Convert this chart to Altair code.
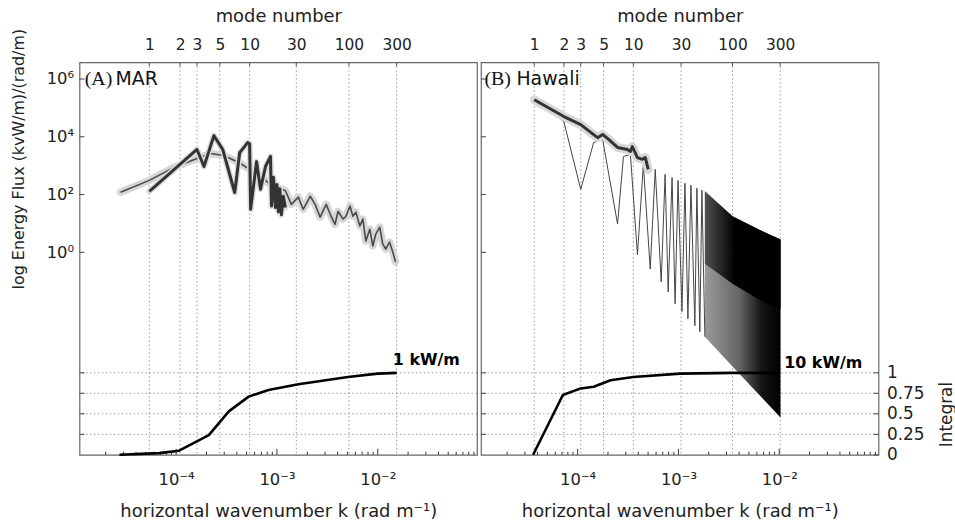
import altair as alt
import pandas as pd

# ---------------- data ----------------
mode_labels = ['1', '2', '3', '5', '10', '30', '100', '300']
mar_mode_k = [5.42e-5, 1.094e-4, 1.61e-4, 2.71e-4, 5.36e-4, 1.556e-3, 5.18e-3, 1.54e-2]
haw_mode_k = [3.71e-5, 7.31e-5, 1.074e-4, 1.81e-4, 3.57e-4, 1.062e-3, 3.44e-3, 1.023e-2]

# Panel A: MAR  (k in rad/m, log10 energy flux)
mar_model_k = [2.81e-5, 5.42e-5, 9.55e-5, 1.61e-4, 2.21e-4, 2.97e-4, 4.18e-4, 5.36e-4,
               6.87e-4, 8.83e-4, 1.213e-3, 1.39e-3, 1.63e-3, 1.82e-3, 2.14e-3, 2.39e-3,
               2.68e-3, 3.08e-3, 3.44e-3, 3.77e-3, 4.04e-3, 4.52e-3, 4.84e-3, 5.30e-3,
               5.67e-3, 6.07e-3, 6.65e-3, 7.12e-3, 7.62e-3, 8.34e-3, 8.93e-3, 9.55e-3,
               1.047e-2, 1.12e-2, 1.20e-2, 1.31e-2, 1.41e-2, 1.50e-2]
mar_model_logF = [2.08, 2.49, 2.94, 3.25, 3.42, 3.35, 3.11, 2.87,
                  2.63, 2.32, 2.13, 1.66, 1.91, 1.49, 1.94, 1.66,
                  1.22, 1.66, 1.25, 0.97, 1.42, 1.15, 1.25, 1.60,
                  1.25, 1.39, 0.91, 1.15, 0.39, 0.80, 0.22, 0.63,
                  0.87, 0.29, 0.11, 0.35, 0.01, -0.33]
mar_obs_k = [5.42e-5, 1.61e-4, 1.89e-4, 2.37e-4, 2.90e-4, 3.81e-4, 4.27e-4, 5.12e-4,
             5.36e-4, 5.48e-4, 6.28e-4, 6.87e-4, 7.70e-4, 8.63e-4, 8.83e-4, 9.24e-4,
             9.66e-4, 1.0e-3, 1.035e-3, 1.07e-3, 1.107e-3, 1.158e-3, 1.213e-3]
mar_obs_logF = [2.11, 3.56, 2.97, 4.04, 3.56, 2.07, 3.45, 3.80,
                3.76, 1.49, 3.14, 2.18, 2.97, 3.32, 1.60, 2.60,
                1.55, 2.35, 1.40, 2.20, 1.30, 1.94, 1.55]
mar_int_k = [2.74e-5, 6.8e-5, 1.07e-4, 2.11e-4, 3.33e-4, 5.24e-4, 8.24e-4, 1.63e-3,
             5.06e-3, 1.0e-2, 1.54e-2]
mar_int = [0.0, 0.02, 0.05, 0.24, 0.53, 0.71, 0.79, 0.86, 0.95, 0.99, 1.0]

# Panel B: Hawaii
haw_obs_k = [3.71e-5, 7.31e-5, 1.074e-4, 1.349e-4, 1.58e-4, 1.77e-4, 2.03e-4, 2.49e-4,
             3.12e-4, 3.34e-4, 3.49e-4, 3.92e-4, 4.39e-4, 4.69e-4, 5.02e-4]
haw_obs_logF = [5.28, 4.70, 4.42, 4.15, 3.97, 4.08, 3.91, 3.63,
                3.56, 3.49, 3.66, 3.28, 3.22, 3.28, 2.87]
haw_thin_k = [3.71e-5, 5.21e-5, 7.31e-5, 1.074e-4, 1.442e-4, 1.77e-4, 2.49e-4, 2.85e-4,
              3.34e-4, 3.92e-4, 4.49e-4, 5.25e-4, 5.89e-4, 6.75e-4, 7.38e-4, 7.91e-4,
              8.65e-4, 9.27e-4, 9.91e-4, 1.084e-3, 1.161e-3, 1.242e-3, 1.33e-3, 1.456e-3,
              1.524e-3, 1.63e-3, 1.71e-3, 1.83e-3]
haw_thin_logF = [5.28, 4.94, 4.52, 2.18, 3.80, 3.91, 0.98, 3.32,
                 3.39, -0.09, 3.04, -0.58, 2.87, -1.02, 2.70, -1.37,
                 2.59, -1.78, 2.49, -2.05, 2.39, -2.30, 2.32, -2.54,
                 2.22, -2.75, 2.15, -2.92]
# dense oscillation band (envelopes)
haw_dense_k = [1.83e-3, 3.44e-3, 6.81e-3, 1.03e-2]
haw_dense_top = [2.11, 1.25, 0.73, 0.44]
haw_dense_mid = [-0.40, -1.09, -1.70, -1.95]
haw_dense_bot = [-2.92, -3.95, -5.05, -5.72]
haw_int_k = [3.62e-5, 7.14e-5, 1.074e-4, 1.442e-4, 2.12e-4, 3.57e-4, 1.04e-3, 3.44e-3, 1.0e-2]
haw_int = [0.0, 0.73, 0.81, 0.83, 0.91, 0.95, 0.99, 1.0, 1.0]

flux_ticks = [0, 2, 4, 6]
int_levels = [0.25, 0.5, 0.75, 1.0]
int_ticks = [0, 0.25, 0.5, 0.75, 1.0]
k_major = [1e-4, 1e-3, 1e-2]
k_minor = [m * 10.0 ** e for e in (-5, -4, -3, -2) for m in range(2, 10)]

# ---------------- layout / style ----------------
W, H = 400, 395
XDOM = [1.1e-5, 0.0965]
FDOM = [-7.01, 6.58]
IDOM = [0, 4.79]
FONT = "DejaVu Sans"
GRID = '#9a9a9a'


def xs(field='k', axis=None):
    return alt.X(f'{field}:Q', scale=alt.Scale(type='log', domain=XDOM, nice=False), axis=axis)


def yf(field='f', axis=None):
    return alt.Y(f'{field}:Q', scale=alt.Scale(domain=FDOM, nice=False, zero=False), axis=axis)


def yi(field='v', axis=None):
    return alt.Y(f'{field}:Q', scale=alt.Scale(domain=IDOM, nice=False, zero=False), axis=axis)


def top_axis(mode_k):
    expr = ("[" + ",".join(f"'{l}'" for l in mode_labels) + "][indexof([" +
            ",".join(repr(k) for k in mode_k) + "], datum.value)]")
    return alt.Axis(orient='top', values=mode_k, labelExpr=expr, title='mode number',
                    ticks=False, tickSize=0, domain=False, grid=False, labelFontSize=15.5,
                    labelPadding=18, labelBaseline='middle', labelFlush=False,
                    labelOverlap=False, titleFontSize=18, titleFontWeight='normal',
                    titleY=-46, titleBaseline='middle')


bottom_axis = alt.Axis(orient='bottom', values=k_major,
                       labelExpr="datum.value < 5e-4 ? '10⁻⁴' : (datum.value < 5e-3 ? '10⁻³' : '10⁻²')",
                       title='horizontal wavenumber k (rad m⁻¹)', ticks=False, tickSize=0,
                       domain=False, grid=False, labelFontSize=16.5, labelPadding=25,
                       labelBaseline='middle', labelFlush=False, labelOverlap=False,
                       titleFontSize=18, titleFontWeight='normal', titleY=57,
                       titleBaseline='middle')

left_axis = alt.Axis(orient='left', values=flux_ticks,
                     labelExpr="datum.value == 6 ? '10⁶' : (datum.value == 4 ? '10⁴' : (datum.value == 2 ? '10²' : '10⁰'))",
                     title='log Energy Flux (kvW/m)/(rad/m)', ticks=False, tickSize=0,
                     domain=False, grid=False, labelFontSize=16.5, labelPadding=6,
                     labelOverlap=False, labelFlush=False, titleFontSize=16,
                     titleFontWeight='normal', titleX=-61.5, titleY=97, titleAngle=270,
                     titleBaseline='middle')

right_axis = alt.Axis(orient='right', values=int_ticks, labelExpr="'' + datum.value",
                      title='Integral', ticks=False, tickSize=0, domain=False, grid=False,
                      labelFontSize=17, labelPadding=8, labelOverlap=False, labelFlush=False,
                      titleFontSize=17, titleFontWeight='normal', titleX=68, titleY=354,
                      titleAngle=270, titleBaseline='middle')


def panel(mode_k, spectra_layers, int_k, int_v, labels, total_text, total_k, total_v,
          show_left, show_right):
    layers = []
    layers.append(alt.Chart(pd.DataFrame({'k': mode_k})).mark_rule(
        color=GRID, strokeDash=[1.5, 2.5], strokeWidth=1).encode(x=xs(axis=top_axis(mode_k))))
    layers.append(alt.Chart(pd.DataFrame({'v': int_levels})).mark_rule(
        color=GRID, strokeDash=[1.5, 2.5], strokeWidth=1).encode(y=yi()))
    layers.append(alt.Chart(pd.DataFrame({'k': k_minor})).mark_rule(color='#333').encode(
        x=xs(), y=alt.value(H), y2=alt.value(H - 3)))
    layers.append(alt.Chart(pd.DataFrame({'k': k_major})).mark_rule(color='#333').encode(
        x=xs(axis=bottom_axis), y=alt.value(H), y2=alt.value(H - 6)))
    layers.append(alt.Chart(pd.DataFrame({'k': mode_k})).mark_rule(color='#555').encode(
        x=xs(), y=alt.value(0), y2=alt.value(4)))
    layers.append(alt.Chart(pd.DataFrame({'f': flux_ticks})).mark_rule(color='#444').encode(
        y=yf(axis=left_axis if show_left else None), x=alt.value(0), x2=alt.value(5)))
    layers.append(alt.Chart(pd.DataFrame({'v': int_levels})).mark_rule(color='#444').encode(
        y=yi(), x=alt.value(0), x2=alt.value(5)))
    if show_right:
        layers.append(alt.Chart(pd.DataFrame({'v': int_ticks})).mark_rule(color='#444').encode(
            y=yi(axis=right_axis), x=alt.value(W - 5), x2=alt.value(W)))
    layers.extend(spectra_layers)
    layers.append(alt.Chart(pd.DataFrame({'k': int_k, 'v': int_v})).mark_line(
        color='black', strokeWidth=2.6, strokeJoin='round').encode(x=xs(), y=yi()))
    for txt, k, f, font, size in labels:
        layers.append(alt.Chart(pd.DataFrame({'k': [k], 'f': [f], 't': [txt]})).mark_text(
            font=font, fontSize=size, align='left', baseline='middle', color='#111').encode(
            x=xs(), y=yf(), text='t:N'))
    layers.append(alt.Chart(pd.DataFrame({'k': [total_k], 'v': [total_v], 't': [total_text]})).mark_text(
        font=FONT, fontSize=16, fontWeight='bold', align='left', baseline='middle',
        color='#000').encode(x=xs(), y=yi(), text='t:N'))
    return (alt.layer(*layers)
            .resolve_scale(y='independent')
            .resolve_axis(x='independent', y='independent')
            .properties(width=W, height=H))


def line_with_band(k, f, band_w, band_c, line_w, line_c):
    df = pd.DataFrame({'k': k, 'f': f})
    band = alt.Chart(df).mark_line(color=band_c, strokeWidth=band_w, strokeJoin='round',
                                   strokeCap='round').encode(x=xs(), y=yf())
    line = alt.Chart(df).mark_line(color=line_c, strokeWidth=line_w, strokeJoin='round').encode(
        x=xs(), y=yf())
    return [band, line]


mar_layers = (line_with_band(mar_model_k, mar_model_logF, 7.5, '#d6d6d6', 1.6, '#4a4a4a') +
              line_with_band(mar_obs_k, mar_obs_logF, 6, '#dddddd', 3, '#333'))

dense = pd.DataFrame({'k': haw_dense_k, 'hi': haw_dense_top, 'mid': haw_dense_mid,
                      'lo': haw_dense_bot})
grad_low = alt.Gradient(gradient='linear', x1=0, x2=1, y1=0, y2=0, stops=[
    alt.GradientStop(color='#9a9a9a', offset=0), alt.GradientStop(color='#666666', offset=0.45),
    alt.GradientStop(color='#151515', offset=0.75), alt.GradientStop(color='#000000', offset=1)])
grad_up = alt.Gradient(gradient='linear', x1=0, x2=1, y1=0, y2=0, stops=[
    alt.GradientStop(color='#505050', offset=0), alt.GradientStop(color='#000000', offset=0.4),
    alt.GradientStop(color='#000000', offset=1)])
dense_low = alt.Chart(dense).mark_area(color=grad_low).encode(x=xs(), y=yf('hi'), y2='lo:Q')
dense_up = alt.Chart(dense).mark_area(color=grad_up).encode(x=xs(), y=yf('hi'), y2='mid:Q')
thin = alt.Chart(pd.DataFrame({'k': haw_thin_k, 'f': haw_thin_logF})).mark_line(
    color='#444', strokeWidth=1).encode(x=xs(), y=yf())
haw_layers = ([dense_low, dense_up, thin] +
              line_with_band(haw_obs_k, haw_obs_logF, 9, '#d8d8d8', 3, '#333'))

left = panel(mar_mode_k, mar_layers, mar_int_k, mar_int,
             [('(A)', 1.24e-5, 6.0, 'Liberation Serif', 20), ('MAR', 2.5e-5, 6.0, FONT, 19)],
             '1 kW/m', 1.41e-2, 1.16, True, False)
right = panel(haw_mode_k, haw_layers, haw_int_k, haw_int,
              [('(B)', 1.19e-5, 6.0, 'Liberation Serif', 20), ('Hawali', 2.47e-5, 6.0, FONT, 19)],
              '10 kW/m', 1.12e-2, 1.125, False, True)

chart = (alt.hconcat(left, right, spacing=0)
         .properties(padding={'left': 9, 'top': 5, 'right': 0, 'bottom': 0},
                     background='white')
         .configure_view(stroke='#666', strokeWidth=1.2)
         .configure_axis(labelFont=FONT, titleFont=FONT, labelColor='#222', titleColor='#222'))

chart.save("out.html", embed_options={"renderer": "svg", "actions": False})
